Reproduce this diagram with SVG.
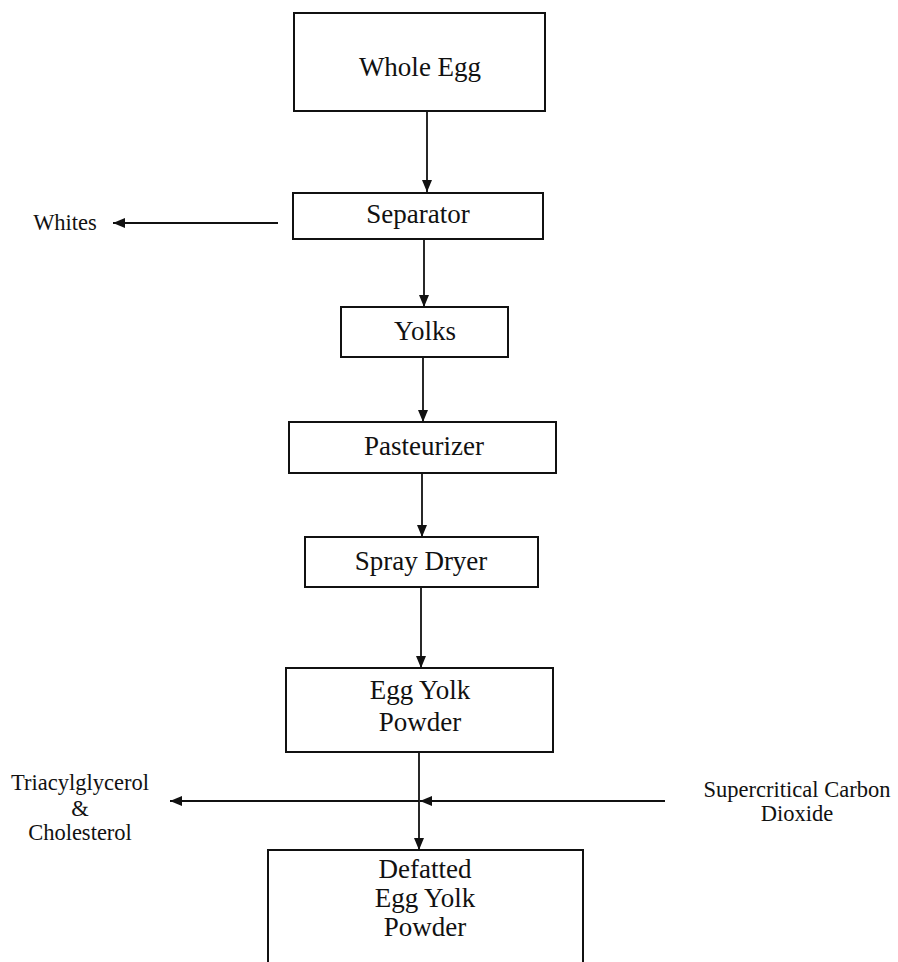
<svg xmlns="http://www.w3.org/2000/svg" width="898" height="962" viewBox="0 0 898 962">
  <defs>
    <marker id="arrow" viewBox="0 0 12 10" refX="12" refY="5" markerWidth="12" markerHeight="10" markerUnits="userSpaceOnUse" orient="auto">
      <path d="M0,0 L12,5 L0,10 Z" fill="#111"/>
    </marker>
    <style>
      .box { fill: #fff; stroke: #111; stroke-width: 2; }
      .open { fill: none; stroke: #111; stroke-width: 2; }
      .lbl { font-family: "Liberation Serif", "Times New Roman", serif; font-size: 27px; fill: #111; text-anchor: middle; }
      .side { font-family: "Liberation Serif", "Times New Roman", serif; font-size: 22.5px; fill: #111; text-anchor: middle; }
      .edge { fill: none; stroke: #111; stroke-width: 1.8; marker-end: url(#arrow); }
    </style>
  </defs>
  <rect width="898" height="962" fill="#fff"/>

  <g id="connectors">
    <line class="edge" x1="427" y1="112" x2="427" y2="192"/>
    <line class="edge" x1="278" y1="223" x2="113" y2="223"/>
    <line class="edge" x1="424" y1="240" x2="424" y2="307"/>
    <line class="edge" x1="423" y1="358" x2="423" y2="422"/>
    <line class="edge" x1="422" y1="474" x2="422" y2="537"/>
    <line class="edge" x1="421" y1="588" x2="421" y2="668"/>
    <line class="edge" x1="419" y1="753" x2="419" y2="850"/>
    <line class="edge" x1="419" y1="801" x2="170" y2="801"/>
    <line class="edge" x1="665" y1="801" x2="420" y2="801"/>
  </g>

  <g id="whole-egg">
    <rect class="box" x="294" y="13" width="251" height="98"/>
    <text class="lbl" x="420" y="76">Whole Egg</text>
  </g>

  <g id="separator">
    <rect class="box" x="293" y="193" width="250" height="46"/>
    <text class="lbl" x="418" y="223">Separator</text>
  </g>

  <g id="whites">
    <text class="side" x="65" y="230">Whites</text>
  </g>

  <g id="yolks">
    <rect class="box" x="341" y="307" width="167" height="50"/>
    <text class="lbl" x="425" y="340">Yolks</text>
  </g>

  <g id="pasteurizer">
    <rect class="box" x="289" y="422" width="267" height="51"/>
    <text class="lbl" x="424" y="455">Pasteurizer</text>
  </g>

  <g id="spray-dryer">
    <rect class="box" x="305" y="537" width="233" height="50"/>
    <text class="lbl" x="421" y="570">Spray Dryer</text>
  </g>

  <g id="egg-yolk-powder">
    <rect class="box" x="286" y="668" width="267" height="84"/>
    <text class="lbl" x="420" y="699">Egg Yolk</text>
    <text class="lbl" x="420" y="731">Powder</text>
  </g>

  <g id="triacylglycerol-cholesterol">
    <text class="side" x="80" y="790">Triacylglycerol</text>
    <text class="side" x="80" y="816">&amp;</text>
    <text class="side" x="80" y="840">Cholesterol</text>
  </g>

  <g id="supercritical-co2">
    <text class="side" x="797" y="797">Supercritical Carbon</text>
    <text class="side" x="797" y="821">Dioxide</text>
  </g>

  <g id="defatted-egg-yolk-powder">
    <path class="open" d="M268,962 L268,850 L583,850 L583,962"/>
    <text class="lbl" x="425" y="878">Defatted</text>
    <text class="lbl" x="425" y="907">Egg Yolk</text>
    <text class="lbl" x="425" y="936">Powder</text>
  </g>
</svg>
